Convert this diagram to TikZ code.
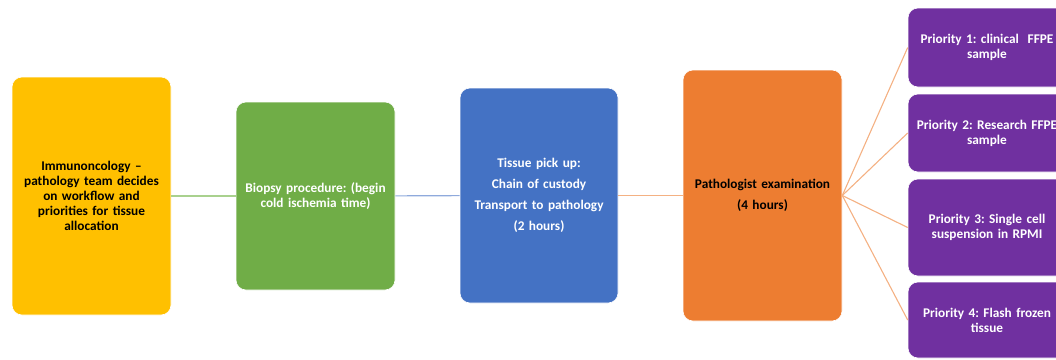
\documentclass[tikz,border=0pt]{standalone}
\usepackage{fontspec}
\setmainfont{Carlito}
\frenchspacing
\definecolor{stepyellow}{HTML}{FFC000}
\definecolor{stepgreen}{HTML}{70AD47}
\definecolor{stepblue}{HTML}{4472C4}
\definecolor{steporange}{HTML}{ED7D31}
\definecolor{steppurple}{HTML}{7030A0}
\definecolor{linegreen}{HTML}{A9D18E}
\definecolor{lineblue}{HTML}{8FAADC}
\definecolor{lineorange}{HTML}{F4B183}
\begin{document}
\begin{tikzpicture}[x=1pt,y=-1pt,
    stagebox/.style={rounded corners=10pt,draw=white,line width=0.6pt,
      inner sep=0pt,align=center,text width=155pt,
      font=\fontsize{13.3}{15}\selectfont\bfseries},
    prioritybox/.style={stagebox,fill=steppurple,text=white,
      minimum width=158pt}]
      \useasboundingbox (0,0) rectangle (1056,359);
      \draw
        (91.5,196) node[stagebox,fill=stepyellow,minimum width=159pt,minimum height=238pt] (team){Immunoncology --\\pathology team decides\\on workflow and\\priorities for tissue\\allocation}
        (315.5,196) node[stagebox,fill=stepgreen,text=white,minimum width=159pt,minimum height=188pt] (biopsy){Biopsy procedure: (begin\\cold ischemia time)}
        (539,195.5) node[stagebox,fill=stepblue,text=white,minimum width=158pt,minimum height=215pt] (pickup){Tissue pick up:\\[6pt]Chain of custody\\[6pt]Transport to pathology\\[6pt](2 hours)}
        (762.5,195.5) node[stagebox,fill=steporange,minimum width=159pt,minimum height=251pt] (exam){Pathologist examination\\[6pt](4 hours)}
        (987,47.5) node[prioritybox,minimum height=79pt] (p1){Priority 1: clinical\ \ FFPE\\sample}
        (987,133) node[prioritybox,minimum height=78pt] (p2){Priority 2: Research FFPE\\sample}
        (987,227.5) node[prioritybox,minimum height=97pt] (p3){Priority 3: Single cell\\suspension in RPMI}
        (987,320) node[prioritybox,minimum height=76pt] (p4){Priority 4: Flash frozen\\tissue};
      \begin{scope}[-,line width=1.1pt]
        \draw[linegreen] (team) to (biopsy);
        \draw[lineblue] (biopsy) to (pickup);
        \draw[lineorange] (pickup) to (exam);
        \draw[lineorange] (exam.east) to (p1.west);
        \draw[lineorange] (exam.east) to (p2.west);
        \draw[lineorange] (exam.east) to (p3.west);
        \draw[lineorange] (exam.east) to (p4.west);
      \end{scope}
    \end{tikzpicture}
\end{document}
